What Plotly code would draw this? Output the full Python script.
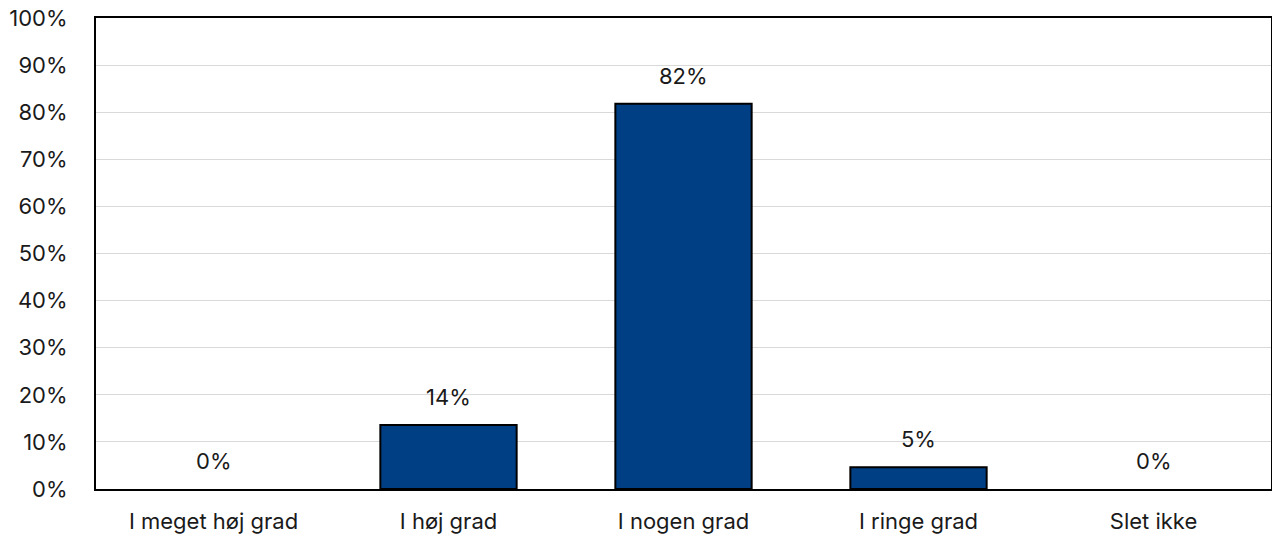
import plotly.graph_objects as go

categories = ["I meget høj grad", "I høj grad", "I nogen grad", "I ringe grad", "Slet ikke"]
values = [0, 13.6, 81.8, 4.6, 0]
labels = ["0%", "14%", "82%", "5%", "0%"]
yticks = list(range(0, 101, 10))

font_family = "Inter, Lato, sans-serif"
text_color = "#1a1a1a"

fig = go.Figure()
fig.add_trace(go.Bar(
    x=categories, y=values,
    marker=dict(color="#003F84",
                line=dict(color="#000000", width=[2 if v > 0 else 0 for v in values])),
    hoverinfo="skip",
))

for c, v, t in zip(categories, values, labels):
    fig.add_annotation(x=c, y=v, text=t, showarrow=False, yanchor="bottom",
                       yshift=13, font=dict(size=22, color=text_color, family=font_family))

fig.update_layout(
    width=1264, height=532,
    margin=dict(l=88, r=1, t=10, b=51, autoexpand=False),
    paper_bgcolor="white", plot_bgcolor="white",
    bargap=0.42, showlegend=False,
    font=dict(family=font_family, size=22, color=text_color),
)
fig.update_xaxes(
    automargin=False,
    showline=True, linecolor="black", linewidth=2, mirror=True,
    ticks="outside", ticklen=12, tickcolor="rgba(0,0,0,0)",
    tickfont=dict(size=22, color=text_color),
)
fig.update_yaxes(
    automargin=False, ticklabeloverflow="allow",
    range=[0, 100], tickvals=yticks, ticktext=[f"{v}%" for v in yticks],
    showline=True, linecolor="black", linewidth=2, mirror=True,
    showgrid=True, gridcolor="#d9d9d9", gridwidth=1,
    ticks="outside", ticklen=22, tickcolor="rgba(0,0,0,0)",
    tickfont=dict(size=22, color=text_color), zeroline=False,
)

fig.write_html("out.html")
